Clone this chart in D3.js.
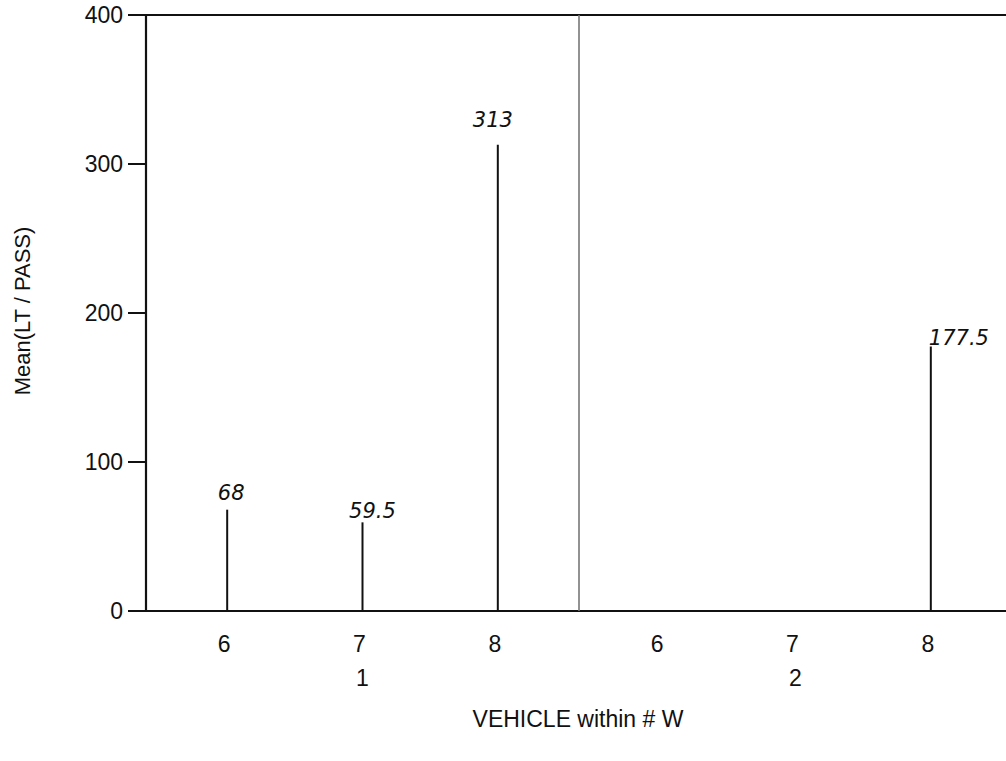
<html>
<head>
    <style>
        body { margin: 0; background: #fff; }
        text { font-family: "Liberation Sans", Arial, sans-serif; fill: #111; }
        .note { font-family: "DejaVu Sans", sans-serif; font-style: italic; font-weight: 200; }
    </style>
    <script src="https://d3js.org/d3.v7.min.js"></script>
</head>
<body>
<svg id="chart"></svg>
<script>
    // data
    var groups = ['1', '2'];
    var vehicles = ['6', '7', '8'];
    var means = [
        [68, 59.5, 313],
        [0, 0, 177.5]
    ];
    var notes = [
        ['68', '59.5', '313'],
        [null, null, '177.5']
    ];
    var yTicks = [0, 100, 200, 300, 400];

    // hand-written notes sit a bit unevenly over their needles
    var noteShift = [
        [[4, -10], [10, -4], [-5, -18]],
        [[0, 0], [0, 0], [-2, -2]]
    ];

    var W = 1006, H = 761;
    var pLeft = 146, pRight = 1012, pTop = 15, pBottom = 611;

    var svg = d3.select('#chart').attr('width', W).attr('height', H);

    var y = d3.scaleLinear().domain([0, 400]).range([pBottom, pTop]);
    var gx = d3.scaleBand().domain(groups).range([pLeft, pRight]);
    var vx = d3.scalePoint().domain(vehicles).range([0, gx.bandwidth()]).padding(0.6);

    // y ticks
    svg.selectAll('.yt').data(yTicks).enter().append('line')
        .attr('x1', pLeft - 18).attr('x2', pLeft)
        .attr('y1', function (d) { return y(d); }).attr('y2', function (d) { return y(d); })
        .attr('stroke', '#111').attr('stroke-width', 2);
    svg.selectAll('.yl').data(yTicks).enter().append('text')
        .attr('x', pLeft - 23).attr('y', function (d) { return y(d) + 8; })
        .attr('text-anchor', 'end').attr('font-size', 23)
        .text(function (d) { return d; });

    // frame
    svg.append('line').attr('x1', pLeft).attr('x2', pLeft).attr('y1', pTop).attr('y2', pBottom)
        .attr('stroke', '#111').attr('stroke-width', 2.2);
    svg.append('line').attr('x1', pLeft).attr('x2', W).attr('y1', pTop).attr('y2', pTop)
        .attr('stroke', '#111').attr('stroke-width', 2);
    svg.append('line').attr('x1', pLeft).attr('x2', W).attr('y1', pBottom).attr('y2', pBottom)
        .attr('stroke', '#111').attr('stroke-width', 2.2);

    // group divider
    svg.append('line').attr('x1', gx('2')).attr('x2', gx('2')).attr('y1', pTop).attr('y2', pBottom)
        .attr('stroke', '#777').attr('stroke-width', 1.6);

    groups.forEach(function (g, gi) {
        var g0 = gx(g);
        var gg = svg.append('g').attr('transform', 'translate(' + g0 + ',0)');

        gg.selectAll('line.needle').data(means[gi]).enter().append('line')
            .attr('class', 'needle')
            .attr('x1', function (d, i) { return vx(vehicles[i]); })
            .attr('x2', function (d, i) { return vx(vehicles[i]); })
            .attr('y1', y(0)).attr('y2', function (d) { return y(d); })
            .attr('stroke', '#111').attr('stroke-width', 2);

        gg.selectAll('text.vl').data(vehicles).enter().append('text')
            .attr('class', 'vl')
            .attr('x', function (d) { return vx(d) - 3; }).attr('y', 652)
            .attr('text-anchor', 'middle').attr('font-size', 23)
            .text(function (d) { return d; });

        gg.append('text')
            .attr('x', gx.bandwidth() / 2).attr('y', 686)
            .attr('text-anchor', 'middle').attr('font-size', 23)
            .text(g);

        // handwritten value notes
        gg.selectAll('text.note').data(means[gi]).enter().append('text')
            .attr('class', 'note')
            .attr('x', function (d, i) { return vx(vehicles[i]) + noteShift[gi][i][0]; })
            .attr('y', function (d, i) { return y(d) + noteShift[gi][i][1]; })
            .attr('text-anchor', gi === 1 ? 'start' : 'middle')
            .attr('font-size', 21)
            .text(function (d, i) { return notes[gi][i]; });
    });

    // axis titles
    svg.append('text').attr('x', 578).attr('y', 727)
        .attr('text-anchor', 'middle').attr('font-size', 23)
        .text('VEHICLE within # W');
    svg.append('text')
        .attr('transform', 'translate(30,311) rotate(-90)')
        .attr('text-anchor', 'middle').attr('font-size', 22)
        .text('Mean(LT / PASS)');
</script>
</body>
</html>
